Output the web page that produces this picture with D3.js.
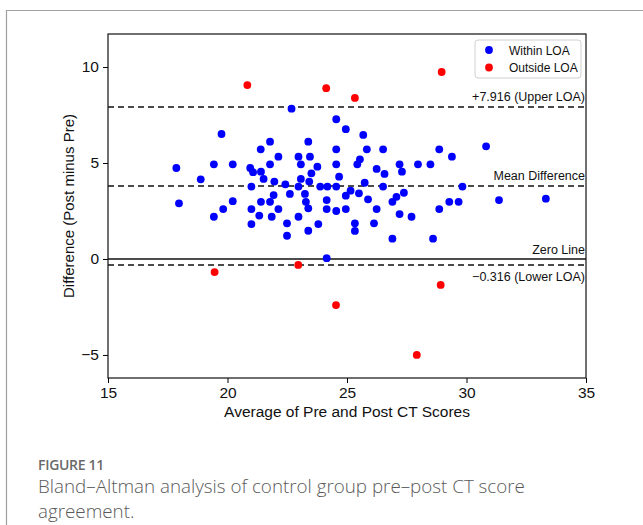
<!DOCTYPE html>
<html>
<head>
<meta charset="utf-8">
<script src="https://cdn.jsdelivr.net/npm/d3@7"></script>
<style>
  body { margin: 0; background: #fff; }
  svg text { font-family: "Liberation Sans", Arial, Helvetica, sans-serif; }
</style>
</head>
<body>
<div id="chart"></div>
<script>
// chart size
var width = 643,
  height = 525;

// Bland-Altman data (average of pre/post, difference post minus pre)
var withinAvg = [17.86, 17.97, 18.88, 19.43, 19.43, 19.82, 20.22, 20.22, 19.75, 20.95,
  21.07, 21.40, 21.51, 21.00, 21.39, 21.78, 21.78, 22.13, 21.96, 21.40,
  21.78, 21.93, 21.00, 21.33, 21.85, 21.00, 22.13, 22.68, 24.55, 24.95,
  25.68, 23.38, 24.55, 25.83, 26.51, 28.86, 30.82, 22.97, 23.07, 23.45,
  23.76, 23.51, 23.07, 23.42, 22.42, 22.97, 23.88, 24.18, 24.55, 24.55,
  24.67, 22.61, 23.24, 23.28, 23.38, 22.97, 22.49, 22.49, 23.38, 23.80,
  24.15, 24.15, 24.55, 24.95, 24.95, 25.15, 25.50, 25.74, 25.43, 25.54,
  26.24, 26.57, 26.51, 25.88, 26.24, 25.33, 25.33, 26.13, 26.90, 27.07,
  27.38, 27.20, 27.70, 26.90, 27.20, 27.30, 27.97, 28.49, 29.39, 28.86,
  29.28, 29.67, 29.83, 28.60, 31.36, 33.32, 24.15];
var withinDiff = [4.74, 2.90, 4.15, 4.93, 2.20, 2.60, 4.93, 3.01, 6.51, 4.74,
  4.52, 4.55, 4.17, 3.77, 5.71, 6.11, 4.93, 5.33, 4.03, 2.98,
  2.98, 3.33, 2.60, 2.26, 2.20, 1.82, 2.60, 7.83, 7.28, 6.76,
  6.46, 6.11, 5.71, 5.71, 5.71, 5.71, 5.87, 5.33, 4.93, 5.33,
  4.81, 4.46, 4.17, 4.03, 3.89, 3.77, 3.77, 3.77, 3.77, 4.93,
  4.29, 3.39, 3.39, 2.98, 2.64, 2.20, 1.86, 1.21, 1.47, 1.82,
  3.07, 2.60, 2.50, 2.60, 3.30, 3.56, 3.42, 3.97, 4.93, 5.19,
  4.69, 4.43, 3.77, 3.11, 2.60, 1.86, 1.46, 1.86, 2.98, 3.24,
  3.45, 2.34, 2.20, 1.06, 4.93, 4.55, 4.93, 4.93, 5.33, 2.60,
  2.98, 2.98, 3.77, 1.06, 3.07, 3.14, 0.04];
var outsideAvg = [20.83, 24.13, 25.33, 28.96, 19.46, 22.96, 24.54, 28.92, 27.92];
var outsideDiff = [9.06, 8.90, 8.39, 9.74, -0.68, -0.31, -2.40, -1.35, -5.00];

var upperLoa = 7.916,
  lowerLoa = -0.316,
  meanDiff = (upperLoa + lowerLoa) / 2;

var xTicks = [15, 20, 25, 30, 35];
var yTicks = [-5, 0, 5, 10];

var svg = d3.select("#chart").append("svg")
  .attr("width", width)
  .attr("height", height);

// outer figure frame
svg.append("path")
  .attr("d", "M6.5,525 V10.5 H643")
  .attr("fill", "none")
  .attr("stroke", "#a0a0a0")
  .attr("stroke-width", 1.2);

var plot = { left: 108, right: 586, top: 34, bottom: 378 };

var x = d3.scaleLinear().domain([15, 35]).range([plot.left, plot.right]);
var y = d3.scaleLinear().domain([-6.2, 11.72]).range([plot.bottom, plot.top]);

// axes
svg.append("g")
  .attr("transform", "translate(0," + plot.bottom + ")")
  .call(d3.axisBottom(x).tickValues(xTicks).tickSize(5).tickPadding(4).tickFormat(d3.format("d")))
  .call(g => g.select(".domain").remove())
  .selectAll("text").attr("font-size", 15.5).attr("fill", "#111");

svg.append("g")
  .attr("transform", "translate(" + plot.left + ",0)")
  .call(d3.axisLeft(y).tickValues(yTicks).tickSize(5).tickPadding(4)
    .tickFormat(d => d < 0 ? "\u2212" + Math.abs(d) : d))
  .call(g => g.select(".domain").remove())
  .selectAll("text").attr("font-size", 15.5).attr("fill", "#111");

// reference lines
var refLines = [
  { v: upperLoa, dash: "6,4", label: "+7.916 (Upper LOA)", dy: -6 },
  { v: meanDiff, dash: "6,4", label: "Mean Difference", dy: -6 },
  { v: 0, dash: null, label: "Zero Line", dy: -5 },
  { v: lowerLoa, dash: "6,4", label: "\u22120.316 (Lower LOA)", dy: 16 }
];

svg.append("g").selectAll("line")
  .data(refLines)
  .enter()
  .append("line")
  .attr("x1", plot.left)
  .attr("x2", plot.right)
  .attr("y1", d => y(d.v))
  .attr("y2", d => y(d.v))
  .attr("stroke", "#111")
  .attr("stroke-width", 1.5)
  .attr("stroke-dasharray", d => d.dash);

svg.append("g").selectAll("text")
  .data(refLines)
  .enter()
  .append("text")
  .attr("x", plot.right - 1)
  .attr("y", d => y(d.v) + d.dy)
  .attr("text-anchor", "end")
  .attr("font-size", 12.5)
  .attr("fill", "#111")
  .text(d => d.label);

// points
var within = withinAvg.map((a, i) => ({ a: a, d: withinDiff[i] }));
var outside = outsideAvg.map((a, i) => ({ a: a, d: outsideDiff[i] }));

svg.append("g").selectAll("circle")
  .data(within)
  .enter()
  .append("circle")
  .attr("cx", d => x(d.a))
  .attr("cy", d => y(d.d))
  .attr("r", 3.9)
  .attr("fill", "#0000ff");

svg.append("g").selectAll("circle")
  .data(outside)
  .enter()
  .append("circle")
  .attr("cx", d => x(d.a))
  .attr("cy", d => y(d.d))
  .attr("r", 3.9)
  .attr("fill", "#ff0000");

// plot frame
svg.append("rect")
  .attr("x", plot.left)
  .attr("y", plot.top)
  .attr("width", plot.right - plot.left)
  .attr("height", plot.bottom - plot.top)
  .attr("fill", "none")
  .attr("stroke", "#111")
  .attr("stroke-width", 1.2);

// axis titles
svg.append("text")
  .attr("x", (plot.left + plot.right) / 2)
  .attr("y", 417)
  .attr("text-anchor", "middle")
  .attr("font-size", 15.5)
  .attr("fill", "#111")
  .text("Average of Pre and Post CT Scores");

svg.append("text")
  .attr("transform", "translate(74," + ((plot.top + plot.bottom) / 2) + ") rotate(-90)")
  .attr("text-anchor", "middle")
  .attr("font-size", 15)
  .attr("fill", "#111")
  .text("Difference (Post minus Pre)");

// legend
var legend = svg.append("g").attr("transform", "translate(475,40)");
legend.append("rect")
  .attr("width", 106)
  .attr("height", 38)
  .attr("rx", 3)
  .attr("fill", "#fff")
  .attr("stroke", "#d0d0d0");
var legendItems = [
  { label: "Within LOA", color: "#0000ff" },
  { label: "Outside LOA", color: "#ff0000" }
];
legendItems.forEach((item, i) => {
  legend.append("circle")
    .attr("cx", 14)
    .attr("cy", 10 + i * 17.5)
    .attr("r", 3.9)
    .attr("fill", item.color);
  legend.append("text")
    .attr("x", 34)
    .attr("y", 14.5 + i * 17.5)
    .attr("font-size", 12)
    .attr("fill", "#111")
    .text(item.label);
});

// caption
svg.append("text")
  .attr("x", 38)
  .attr("y", 470)
  .attr("font-size", 14)
  .attr("fill", "#6a6a6a")
  .style("font-family", "'Open Sans', sans-serif")
  .attr("font-weight", 600)
  .attr("letter-spacing", -0.3)
  .text("FIGURE 11");

var captionLines = ["Bland\u2013Altman analysis of control group pre\u2013post CT score", "agreement."];
svg.append("g").selectAll("text")
  .data(captionLines)
  .enter()
  .append("text")
  .attr("x", 38)
  .attr("y", (d, i) => 493 + i * 25)
  .attr("font-size", 18.8)
  .attr("font-weight", 300)
  .attr("fill", "#5a5a5a")
  .style("font-family", "'Open Sans', sans-serif")
  .text(d => d);
</script>
</body>
</html>
